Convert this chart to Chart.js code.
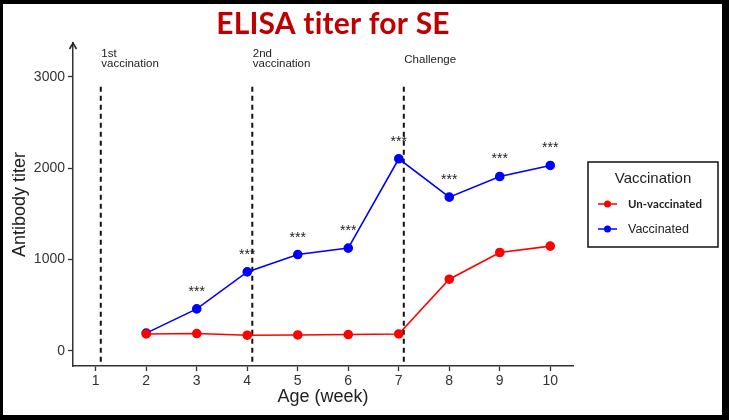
<!DOCTYPE html>
<html>
<head>
<meta charset="utf-8">
<script src="https://cdn.jsdelivr.net/npm/chart.js@4.4.1/dist/chart.umd.min.js"></script>
<style>
  html, body { margin: 0; padding: 0; background: #fff; }
  #wrap { position: relative; width: 729px; height: 420px; }
  #c { position: absolute; left: 0; top: 0; }
  #frame { position: absolute; left: 0; top: 0; width: 729px; height: 420px; box-sizing: border-box;
           border-style: solid; border-color: #000; border-width: 4px 7px 5px 3px; pointer-events: none; }
</style>
</head>
<body>
<div id="wrap">
  <canvas id="c" width="729" height="420"></canvas>
  <div id="frame"></div>
</div>
<script>
// ---- data ----
const weeks = [2, 3, 4, 5, 6, 7, 8, 9, 10];
const unvaccinated = [186, 190, 172, 175, 179, 186, 785, 1077, 1147];
const vaccinated = [195, 460, 865, 1055, 1125, 2103, 1683, 1909, 2030];
const significance = ['', '***', '***', '***', '***', '***', '***', '***', '***'];
const seriesNames = ['Un-vaccinated', 'Vaccinated'];
const xTicks = [1, 2, 3, 4, 5, 6, 7, 8, 9, 10];
const yTicks = [0, 1000, 2000, 3000];
const eventWeeks = [1.1, 4.1, 7.1];
const eventLabels = [['1st', 'vaccination'], ['2nd', 'vaccination'], ['Challenge']];
const eventLineTop = 2890;
const chartTitle = 'ELISA titer for SE';
const xTitle = 'Age (week)';
const yTitle = 'Antibody titer';
const legendTitle = 'Vaccination';

const RED = '#ff0000', BLUE = '#0000ff';

const decorPlugin = {
  id: 'decor',
  beforeDatasetsDraw(chart) {
    const {ctx, chartArea} = chart;
    const xs = chart.scales.x, ys = chart.scales.y;
    ctx.save();
    ctx.strokeStyle = '#111';
    ctx.lineWidth = 2;
    ctx.setLineDash([5, 4]);
    eventWeeks.forEach(w => {
      const px = xs.getPixelForValue(w);
      ctx.beginPath();
      ctx.moveTo(px, ys.getPixelForValue(eventLineTop));
      ctx.lineTo(px, chartArea.bottom);
      ctx.stroke();
    });
    ctx.setLineDash([]);
    ctx.fillStyle = '#222';
    ctx.font = '11.5px "Liberation Sans", Arial, sans-serif';
    ctx.textAlign = 'left';
    ctx.textBaseline = 'alphabetic';
    eventWeeks.forEach((w, i) => {
      const px = xs.getPixelForValue(w) + 0.5;
      const lines = eventLabels[i];
      if (lines.length === 1) {
        ctx.fillText(lines[0], px, 63);
      } else {
        ctx.fillText(lines[0], px, 57);
        ctx.fillText(lines[1], px, 67);
      }
    });
    ctx.restore();
  },
  afterDraw(chart) {
    const {ctx, chartArea} = chart;
    const xs = chart.scales.x, ys = chart.scales.y;
    ctx.save();
    ctx.fillStyle = '#222';
    ctx.font = '14px "Liberation Sans", Arial, sans-serif';
    ctx.textAlign = 'center';
    ctx.textBaseline = 'alphabetic';
    weeks.forEach((w, i) => {
      if (!significance[i]) return;
      ctx.fillText(significance[i], xs.getPixelForValue(w), ys.getPixelForValue(vaccinated[i]) - 13);
    });
    ctx.strokeStyle = '#222';
    ctx.lineWidth = 1.5;
    const ax = chartArea.left, ay = chartArea.top;
    ctx.beginPath();
    ctx.moveTo(ax - 3.5, ay + 6);
    ctx.lineTo(ax, ay);
    ctx.lineTo(ax + 3.5, ay + 6);
    ctx.stroke();
    // title
    ctx.fillStyle = '#c00000';
    ctx.font = 'bold 30px Lato, "Liberation Sans", sans-serif';
    if ('letterSpacing' in ctx) ctx.letterSpacing = '0.2px';
    ctx.textAlign = 'center';
    ctx.textBaseline = 'middle';
    ctx.fillText(chartTitle, 333, 24);
    if ('letterSpacing' in ctx) ctx.letterSpacing = '0px';
    // legend
    const bx = 588, by = 162, bw = 130, bh = 85;
    ctx.fillStyle = '#fff';
    ctx.fillRect(bx, by, bw, bh);
    ctx.strokeStyle = '#111';
    ctx.lineWidth = 1.5;
    ctx.strokeRect(bx, by, bw, bh);
    ctx.fillStyle = '#222';
    ctx.font = '15px "Liberation Sans", Arial, sans-serif';
    ctx.textAlign = 'center';
    ctx.fillText(legendTitle, 653, 179);
    chart.data.datasets.forEach((ds, i) => {
      const yy = 204 + i * 25;
      ctx.strokeStyle = ds.borderColor;
      ctx.lineWidth = 1.5;
      ctx.beginPath();
      ctx.moveTo(598, yy);
      ctx.lineTo(617, yy);
      ctx.stroke();
      ctx.fillStyle = ds.backgroundColor;
      ctx.beginPath();
      ctx.arc(607.5, yy, 3.5, 0, Math.PI * 2);
      ctx.fill();
      ctx.fillStyle = '#222';
      ctx.textAlign = 'left';
      ctx.font = i === 0 ? 'bold 11.5px Lato, "Open Sans", sans-serif'
                         : '12.5px "Liberation Sans", Arial, sans-serif';
      ctx.fillText(ds.label, 628, yy + 0.5);
    });
    ctx.restore();
  }
};

new Chart(document.getElementById('c'), {
  type: 'line',
  data: {
    datasets: [
      { label: seriesNames[0], data: weeks.map((w, i) => ({x: w, y: unvaccinated[i]})),
        borderColor: RED, backgroundColor: RED, pointBackgroundColor: RED, pointBorderColor: RED,
        borderWidth: 1.6, pointRadius: 4, tension: 0 },
      { label: seriesNames[1], data: weeks.map((w, i) => ({x: w, y: vaccinated[i]})),
        borderColor: BLUE, backgroundColor: BLUE, pointBackgroundColor: BLUE, pointBorderColor: BLUE,
        borderWidth: 1.6, pointRadius: 4, tension: 0 }
    ]
  },
  options: {
    responsive: false,
    animation: false,
    devicePixelRatio: 1,
    layout: { padding: { top: 43, right: 156, bottom: 4, left: 4 } },
    plugins: { legend: { display: false }, title: { display: false }, tooltip: { enabled: false } },
    scales: {
      x: {
        type: 'linear', min: 0.55, max: 10.45,
        afterBuildTicks: s => { s.ticks = xTicks.map(v => ({value: v})); },
        afterFit: s => { s.height = 50; },
        grid: { drawOnChartArea: false, color: '#333', tickLength: 5, tickWidth: 1.3 },
        border: { color: '#333', width: 1.5 },
        ticks: { color: '#333', font: { size: 14, family: '"Liberation Sans", Arial, sans-serif' }, padding: 2, maxRotation: 0,
                 callback: v => String(v) },
        title: { display: true, text: xTitle, color: '#222', font: { size: 18, family: '"Liberation Sans", Arial, sans-serif' }, padding: { top: 0, bottom: 8 } }
      },
      y: {
        type: 'linear', min: -165, max: 3370,
        afterBuildTicks: s => { s.ticks = yTicks.map(v => ({value: v})); },
        afterFit: s => { s.width = 69; },
        grid: { drawOnChartArea: false, color: '#333', tickLength: 5, tickWidth: 1.3 },
        border: { color: '#333', width: 1.5 },
        ticks: { color: '#333', font: { size: 14, family: '"Liberation Sans", Arial, sans-serif' }, padding: 3,
                 callback: v => String(v) },
        title: { display: true, text: yTitle, color: '#222', font: { size: 18, family: '"Liberation Sans", Arial, sans-serif' }, padding: { top: 5, bottom: 0 } }
      }
    }
  },
  plugins: [decorPlugin]
});
</script>
</body>
</html>
